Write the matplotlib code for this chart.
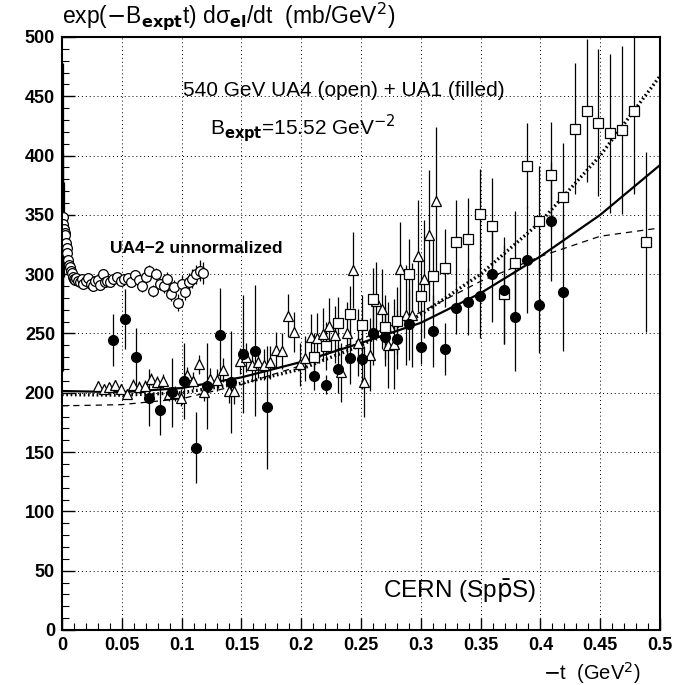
import numpy as np
import matplotlib
matplotlib.use('Agg')
import matplotlib.pyplot as plt
from matplotlib.ticker import MultipleLocator

plt.rcParams['font.family'] = ['Liberation Sans', 'DejaVu Sans']

# UA4-2 unnormalized (open circles)
t_ua42 = [0.0006, 0.0011, 0.0016, 0.0022, 0.0028, 0.0033, 0.0039, 0.0045, 0.0053, 0.006,
          0.0067, 0.0075, 0.0081, 0.009, 0.010, 0.011, 0.012, 0.0135, 0.015, 0.0165,
          0.018, 0.020, 0.022, 0.024, 0.026, 0.028, 0.030, 0.032, 0.034, 0.036,
          0.038, 0.040, 0.043, 0.046, 0.049, 0.052, 0.055, 0.058, 0.061, 0.064,
          0.067, 0.070, 0.073, 0.076, 0.079, 0.082, 0.085, 0.088, 0.091, 0.094,
          0.097, 0.100, 0.103, 0.106, 0.109, 0.112, 0.115, 0.118]
y_ua42 = [348, 342, 338, 335, 333, 326, 322, 318, 312, 308,
          306, 303, 301, 298, 296, 295, 297, 294, 293, 296,
          292, 294, 297, 292, 290, 294, 295, 291, 300, 293,
          294, 293, 296, 298, 294, 296, 297, 293, 299, 295,
          290, 298, 303, 286, 300, 292, 290, 296, 283, 289,
          276, 292, 285, 293, 296, 300, 303, 301]
e_ua42 = [130, 60, 40, 12, 10, 8, 7, 6, 5, 5,
          5, 4, 4, 4, 4, 4, 4, 4, 4, 4,
          4, 4, 4, 4, 4, 4, 4, 4, 4, 4,
          4, 4, 4, 4, 4, 4, 4, 4, 4, 4,
          5, 5, 5, 5, 5, 5, 6, 6, 6, 6,
          7, 7, 7, 8, 8, 8, 9, 9]

# UA4 (open triangles)
t_tri = [0.0298, 0.0348, 0.0396, 0.0446, 0.0496, 0.0543, 0.0594, 0.0644, 0.0694, 0.0744,
         0.0791, 0.0842, 0.0892, 0.0942, 0.0995, 0.1048, 0.1093, 0.1143, 0.119, 0.124,
         0.1293, 0.1343, 0.1394, 0.1441, 0.1491, 0.1541, 0.1586, 0.1636, 0.1686, 0.1739,
         0.1787, 0.1837, 0.1887, 0.1937, 0.1987, 0.2034, 0.2084, 0.2132, 0.2182, 0.223,
         0.228, 0.233, 0.238, 0.243, 0.2478, 0.2528, 0.2578, 0.2625, 0.2678, 0.2728,
         0.2773, 0.2826, 0.2873, 0.2923, 0.2974, 0.3024, 0.3071, 0.3124]
y_tri = [206, 203.5, 204.6, 206.6, 203, 199.2, 206.6, 204.6, 205.7, 211.4,
         209.4, 210, 198.7, 199.5, 195.9, 215, 210.2, 224, 200.7, 211.9,
         210.8, 219.2, 201.8, 201.8, 227.1, 229.9, 223.4, 225.7, 223.7, 225.7,
         236, 235.2, 265, 251, 224, 229, 246.8, 245.9, 249.6, 256.6,
         249, 217.3, 250.7, 303.5, 242.3, 209.4, 232.1, 277.7, 270.7, 240.3,
         240.9, 304, 265.6, 265.6, 315.3, 296, 332.8, 362]
e_tri = [4, 4, 4, 4, 4, 4, 5, 5, 5, 5,
         5, 6, 6, 6, 7, 7, 7, 8, 8, 9,
         9, 10, 10, 11, 11, 12, 12, 13, 13, 14,
         15, 15, 18, 17, 18, 19, 20, 21, 22, 23,
         24, 25, 26, 32, 28, 30, 31, 33, 34, 36,
         38, 40, 42, 44, 47, 50, 55, 62]

# UA4 (open squares)
t_sq = [0.2107, 0.2205, 0.2305, 0.2405, 0.2506, 0.26, 0.27, 0.2804, 0.2901, 0.2999,
        0.3102, 0.3202, 0.3294, 0.3395, 0.3495, 0.3593, 0.3693, 0.379, 0.389, 0.399,
        0.4089, 0.4186, 0.4287, 0.4387, 0.4484, 0.4582, 0.4682, 0.478, 0.488]
y_sq = [230.5, 239.5, 259.1, 266.4, 257.2, 279.1, 255.7, 260.8, 300, 281.6,
        298.5, 305, 327.4, 329.4, 350.5, 340.9, 283, 309.7, 391.5, 344.9,
        383.4, 365.4, 422.7, 437.9, 427.8, 418.8, 421.6, 437.9, 327.4]
e_sq = [20, 20, 22, 24, 25, 26, 27, 28, 30, 30,
        32, 33, 35, 35, 38, 40, 42, 44, 36, 46,
        45, 45, 55, 60, 62, 67, 71, 70, 76]

# UA1 (filled circles)
t_ua1 = [0.0424, 0.0524, 0.0622, 0.0725, 0.0819, 0.0917, 0.102, 0.1118, 0.1215, 0.1318,
         0.1416, 0.1513, 0.1614, 0.1711, 0.211, 0.2205, 0.2305, 0.2405, 0.2506, 0.26,
         0.27, 0.2804, 0.2901, 0.2999, 0.3102, 0.3202, 0.3294, 0.3395, 0.3495, 0.3595,
         0.3693, 0.379, 0.389, 0.399, 0.4089, 0.4186]
y_ua1 = [244.3, 262.2, 230.5, 195.9, 185.5, 200.4, 209.7, 153.7, 205.7, 248.7,
         208.8, 232.7, 235.5, 187.8, 214.4, 206.6, 220, 229, 228.5, 250.2,
         247.3, 245, 257.7, 238.9, 252.1, 237.2, 271.8, 276.8, 281.6, 299.9,
         286.4, 263.7, 312.2, 273.8, 344.6, 285.3]
e_ua1 = [22, 25, 24, 24, 21, 29, 32, 30, 36, 40,
         43, 50, 55, 52, 12, 8, 20, 22, 25, 27,
         25, 25, 30, 15, 30, 22, 22, 28, 35, 40,
         45, 45, 45, 40, 50, 50]

# fit curves
t_fit = [0, 0.05, 0.1, 0.15, 0.2, 0.25, 0.3, 0.35, 0.4, 0.45, 0.5]
y_solid = [201.5, 200.5, 204, 213, 226, 242, 259, 284, 315, 350, 392]
y_dotted = [198.5, 198, 200, 208, 220, 240, 266, 300, 344, 400, 467]
y_dashed = [189, 190, 195, 207, 223, 245, 268, 294, 315, 332, 339]

fig = plt.figure(figsize=(6.87, 6.85), dpi=100)
ax = fig.add_axes([0.0902, 0.0803, 0.8705, 0.8657])

ekw = dict(ecolor='black', elinewidth=0.9, capsize=0, linestyle='none')
ax.errorbar(t_ua42, y_ua42, yerr=e_ua42, marker='o', ms=7, mfc='white', mec='black', mew=0.9, **ekw)
ax.errorbar(t_tri, y_tri, yerr=e_tri, marker='^', ms=7.5, mfc='white', mec='black', mew=0.9, **ekw)
ax.errorbar(t_sq, y_sq, yerr=e_sq, marker='s', ms=7, mfc='white', mec='black', mew=0.9, **ekw)
ax.errorbar(t_ua1, y_ua1, yerr=e_ua1, marker='o', ms=7, mfc='black', mec='black', **ekw)

ax.plot(t_fit, y_solid, color='black', lw=1.6)
ax.plot(t_fit, y_dotted, color='black', lw=2.4, linestyle=(0, (0.5, 0.8)))
ax.plot(t_fit, y_dashed, color='black', lw=0.9, linestyle=(0, (5, 4)))

ax.set_xlim(0, 0.5)
ax.set_ylim(0, 500)
ax.xaxis.set_major_locator(MultipleLocator(0.05))
ax.xaxis.set_minor_locator(MultipleLocator(0.01))
ax.yaxis.set_major_locator(MultipleLocator(50))
ax.yaxis.set_minor_locator(MultipleLocator(10))
ax.xaxis.set_major_formatter(plt.FuncFormatter(lambda v, p: '0' if v == 0 else ('%g' % round(v, 2))))
ax.tick_params(which='both', direction='in', top=False, right=False)
ax.tick_params(which='major', length=9, width=1, labelsize=13, pad=5)
ax.tick_params(which='minor', length=5, width=0.8)
for lab in ax.get_xticklabels() + ax.get_yticklabels():
    lab.set_fontweight('bold')
ax.grid(True, which='major', color='black', linestyle=(0, (1, 3)), lw=0.7)
for s in ax.spines.values():
    s.set_linewidth(1.5)

ax.text(0.101, 455, '540 GeV UA4 (open) + UA1 (filled)', fontsize=15, va='center')
ax.text(0.124, 423, r'B$_{\mathbf{expt}}$=15.52 GeV$^{-2}$', fontsize=15, va='center')
ax.text(0.040, 322, 'UA4\u22122 unnormalized', fontsize=12.5, fontweight='bold', va='center')
ax.text(0.268, 33, r'CERN (Sp$\bar{\mathrm{p}}$S)', fontsize=17.5, va='center')

fig.text(0.09, 0.977, r'exp($-$B$_{\mathbf{expt}}$t) d' + '\u03c3' + r'$_{\mathbf{el}}$/dt  (mb/GeV$^2$)',
         fontsize=16.5, va='center', ha='left')
fig.text(0.933, 0.008, r'$-$t  (GeV$^2$)', fontsize=14.5, va='baseline', ha='right')

fig.savefig('out.png', dpi=100)
